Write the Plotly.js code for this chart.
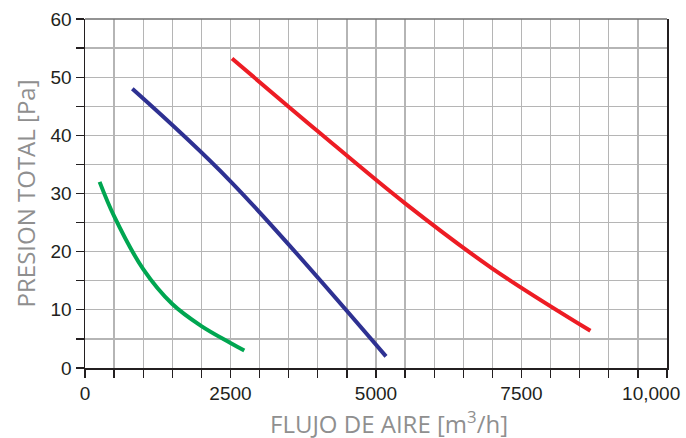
<!DOCTYPE html>
<html>
<head>
<meta charset="utf-8">
<script src="https://cdn.plot.ly/plotly-3.0.1.min.js"></script>
<style>html,body{margin:0;padding:0;background:#fff;}#chart{width:686px;height:438px;}</style>
</head>
<body>
<div id="chart"></div>
<script>
// Series values
const greenX = [251, 500, 1000, 1500, 2000, 2500, 2737];
const greenY = [32.0, 26.1, 17.0, 11.0, 7.2, 4.3, 3.0];

const blueX = [813, 2500, 5172];
const blueY = [48.0, 32.1, 2.0];

const redX = [2526, 4000, 5500, 7000, 8684];
const redY = [53.2, 40.7, 28.3, 17.1, 6.4];

// Tick positions and labels
const xTickVals = [0,500,1000,1500,2000,2500,3000,3500,4000,4500,5000,5500,6000,6500,7000,7500,8000,8500,9000,9500,10000];
const xTickText = ["0","","","","","2500","","","","","5000","","","","","7500","","","","","10,000\u00a0\u00a0\u00a0\u00a0\u00a0\u00a0"];
const yTickVals = [0,5,10,15,20,25,30,35,40,45,50,55,60];
const yTickText = ["0","","10","","20","","30","","40","","50","","60"];

const xTitle = "FLUJO DE AIRE [m<sup>3</sup>/h]";
const yTitle = "PRESION TOTAL [Pa]";

const lineW = 4;
const traces = [
  {x: greenX, y: greenY, mode: 'lines', line: {color: '#00a651', width: lineW, shape: 'spline', smoothing: 1}},
  {x: blueX, y: blueY, mode: 'lines', line: {color: '#2e3192', width: lineW, shape: 'spline', smoothing: 1}},
  {x: redX, y: redY, mode: 'lines', line: {color: '#ed1c24', width: lineW, shape: 'spline', smoothing: 1}}
];

const tickFont = {family: 'Liberation Sans, Arial, sans-serif', size: 19, color: '#231f20'};
const titleFont = {family: 'Open Sans, sans-serif', size: 24, color: '#8f8f8f'};

const layout = {
  width: 686, height: 438,
  margin: {l: 85, r: 19, t: 19, b: 70},
  paper_bgcolor: '#ffffff', plot_bgcolor: '#ffffff',
  showlegend: false,
  xaxis: {
    range: [0, 10000], tickmode: 'array', tickvals: xTickVals, ticktext: xTickText,
    showgrid: true, gridcolor: '#b5b5b5', gridwidth: 1.3,
    showline: true, linecolor: '#231f20', linewidth: 1.5,
    ticks: 'outside', ticklen: 8, tickwidth: 1.3, tickcolor: '#231f20',
    tickfont: tickFont, ticklabeloverflow: 'allow', zeroline: false, fixedrange: true
  },
  yaxis: {
    range: [0, 60], tickmode: 'array', tickvals: yTickVals, ticktext: yTickText,
    showgrid: true, gridcolor: '#b5b5b5', gridwidth: 1.3,
    showline: true, linecolor: '#231f20', linewidth: 1.5, mirror: true,
    ticks: 'outside', ticklen: 8, tickwidth: 1.3, tickcolor: '#231f20',
    tickfont: tickFont, zeroline: false, fixedrange: true
  },
  shapes: [
    {type: 'line', xref: 'paper', yref: 'paper', x0: 0, x1: 1, y0: 1, y1: 1, line: {color: '#6f6f6f', width: 1.5}}
  ],
  annotations: [
    {text: xTitle, xref: 'paper', yref: 'paper', x: 0.523, y: -0.155, xanchor: 'center', yanchor: 'middle', showarrow: false, font: titleFont},
    {text: yTitle, xref: 'paper', yref: 'paper', x: -0.1015, y: 0.5, xanchor: 'center', yanchor: 'middle', textangle: -90, showarrow: false, font: titleFont}
  ]
};

Plotly.newPlot('chart', traces, layout, {displayModeBar: false, staticPlot: true});
</script>
</body>
</html>
